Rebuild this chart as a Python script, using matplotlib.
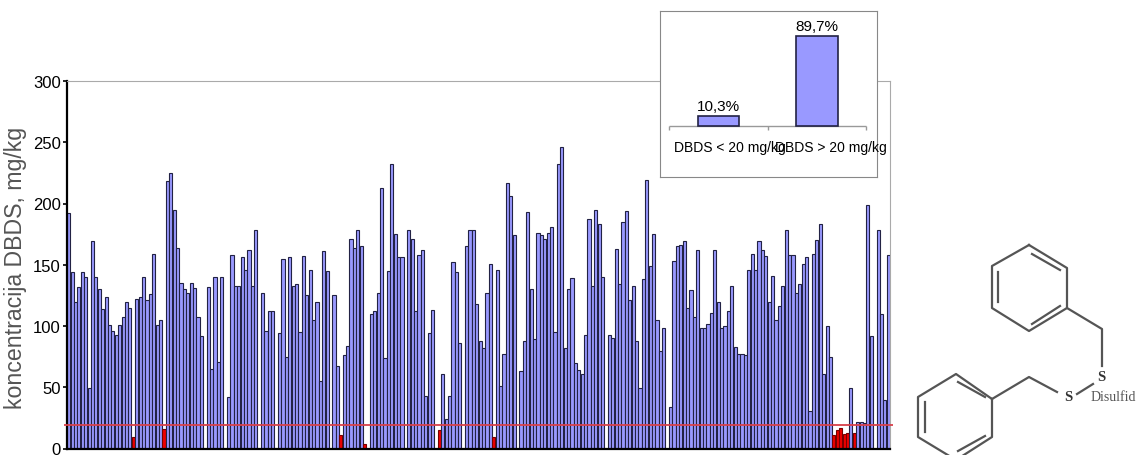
import matplotlib
matplotlib.use("agg")
import matplotlib.pyplot as plt

# DBDS concentration per transformer, mg/kg (0 = empty slot on the axis)
VALUES = [
	192, 144, 120, 132, 144, 140, 49, 169, 140, 130, 114, 124, 101, 96, 93, 101, 107, 120, 115, 9,
	122, 124, 140, 121, 126, 159, 101, 105, 16, 218, 225, 195, 164, 135, 130, 127, 135, 131, 107, 92,
	0, 132, 65, 140, 71, 140, 0, 42, 158, 133, 133, 156, 146, 162, 133, 178, 0, 127, 96, 112,
	112, 0, 94, 155, 75, 156, 133, 134, 95, 157, 125, 146, 105, 120, 55, 161, 145, 0, 125, 67,
	11, 76, 84, 171, 164, 178, 165, 4, 0, 110, 112, 127, 213, 74, 145, 232, 175, 156, 156, 0,
	178, 171, 112, 158, 162, 43, 94, 113, 0, 15, 61, 24, 43, 152, 144, 86, 0, 165, 178, 178,
	118, 88, 82, 127, 151, 9, 146, 51, 77, 217, 206, 174, 0, 63, 88, 193, 130, 89, 176, 174,
	171, 176, 181, 95, 232, 246, 82, 130, 139, 70, 64, 61, 93, 187, 133, 195, 183, 140, 0, 93,
	90, 163, 134, 185, 194, 121, 133, 88, 49, 138, 219, 149, 175, 105, 80, 98, 0, 34, 153, 165,
	166, 169, 115, 129, 107, 162, 98, 98, 102, 111, 162, 120, 98, 100, 112, 133, 83, 77, 77, 76,
	146, 159, 146, 169, 162, 157, 120, 141, 105, 116, 133, 178, 158, 158, 127, 134, 151, 156, 31, 159,
	170, 183, 61, 100, 75, 11, 15, 17, 12, 13, 49, 13, 22, 22, 21, 199, 92, 0, 178, 110,
	40, 158,
]
LIMIT = 19
YTICKS = [0, 50, 100, 150, 200, 250, 300]
YLABEL = "koncentracija DBDS, mg/kg"

SHARE_LABELS = ["DBDS < 20 mg/kg", "DBDS > 20 mg/kg"]
SHARE_VALUES = [10.3, 89.7]
SHARE_TEXT = ["10,3%", "89,7%"]

# molecule sketch, in picture pixels
RINGS = [
	[(1029, 246), (1067, 269), (1067, 309), (1029, 332), (992, 309), (992, 267), (1029, 246)],
	[(992, 400), (956, 375), (918, 398), (918, 438), (956, 461), (992, 438), (992, 400)],
]
DOUBLE_BONDS = [
	[(1032, 255), (1060, 271)], [(998, 273), (998, 303)], [(1032, 325), (1060, 307)],
	[(958, 383), (985, 398)], [(925, 403), (925, 433)], [(958, 452), (985, 437)],
]
CHAINS = [
	[(1067, 309), (1102, 330), (1102, 367)],
	[(1077, 395), (1093, 385)],
	[(1057, 393), (1029, 378), (992, 400)],
]
SULFURS = [(1101, 378), (1068, 398)]

W, H = 1136, 456
FONT = "Liberation Sans"

fig = plt.figure(figsize=(W / 100, H / 100), dpi=100)

# main chart
ax = fig.add_axes([67 / W, 1 - 449.5 / H, (890 - 67) / W, (449.5 - 82) / H])
colors = ["#ee0000" if v < 20 else "#9999ff" for v in VALUES]
edges = ["#770000" if v < 20 else "#222244" for v in VALUES]
ax.bar(range(len(VALUES)), VALUES, width=0.93, color=colors, edgecolor=edges, linewidth=0.8)
ax.hlines(LIMIT, -1.5, len(VALUES) + 0.5, color="#d8404a", linewidth=1.3, clip_on=False, zorder=5)
ax.set_xlim(-0.5, len(VALUES) - 0.5)
ax.set_ylim(0, 300)
ax.set_xticks([])
ax.set_yticks(YTICKS)
ax.tick_params(axis="y", length=3, width=1.2, pad=1.5)
for lab in ax.get_yticklabels():
	lab.set_fontfamily(FONT)
	lab.set_fontsize(12)
ax.set_ylabel(YLABEL, family=FONT, fontsize=16.7, color="#555555")
ax.yaxis.set_label_coords((27 - 67) / 823, 0.493)
ax.spines["top"].set_color("#aaaaaa")
ax.spines["right"].set_color("#aaaaaa")
ax.spines["left"].set_linewidth(1.6)
ax.spines["bottom"].set_linewidth(1.6)

# inset with the shares
ins = fig.add_axes([660 / W, 1 - 178 / H, (877 - 660) / W, (178 - 12) / H], zorder=3)
ins.set_xlim(-0.593, 1.607)
ins.set_ylim(-51, 115)
ins.bar([0, 1], SHARE_VALUES, width=0.42, color="#9999ff", edgecolor="#222244", linewidth=1.2, zorder=3)
ins.hlines(0, -0.5, 1.5, color="#999999", linewidth=1)
ins.vlines([-0.5, 0.5, 1.5], -4, 0, color="#999999", linewidth=1)
for x, v, t in zip([0, 1], SHARE_VALUES, SHARE_TEXT):
	ins.text(x, v + 3, t, ha="center", va="bottom", family=FONT, fontsize=11)
for x, t in zip([0.12, 1.14], SHARE_LABELS):
	ins.text(x, -21, t, ha="center", va="center", family=FONT, fontsize=10, clip_on=False)
ins.set_xticks([])
ins.set_yticks([])
for s in ins.spines.values():
	s.set_color("#888888")

# molecule
mol = fig.add_axes([0, 0, 1, 1], zorder=2)
mol.set_xlim(0, W)
mol.set_ylim(H, 0)
mol.axis("off")
mol.patch.set_alpha(0)
for path in RINGS + DOUBLE_BONDS + CHAINS:
	mol.plot([p[0] for p in path], [p[1] for p in path], color="#555555", linewidth=1.6)
for x, y in SULFURS:
	mol.text(x, y, "S", ha="center", va="center", family="Liberation Serif", weight="bold", fontsize=10.5, color="#333333")
mol.text(1091, 398, "Disulfid", ha="left", va="center", family="Liberation Serif", fontsize=10, color="#555555", clip_on=True)

plt.savefig("out.png", dpi=100)
